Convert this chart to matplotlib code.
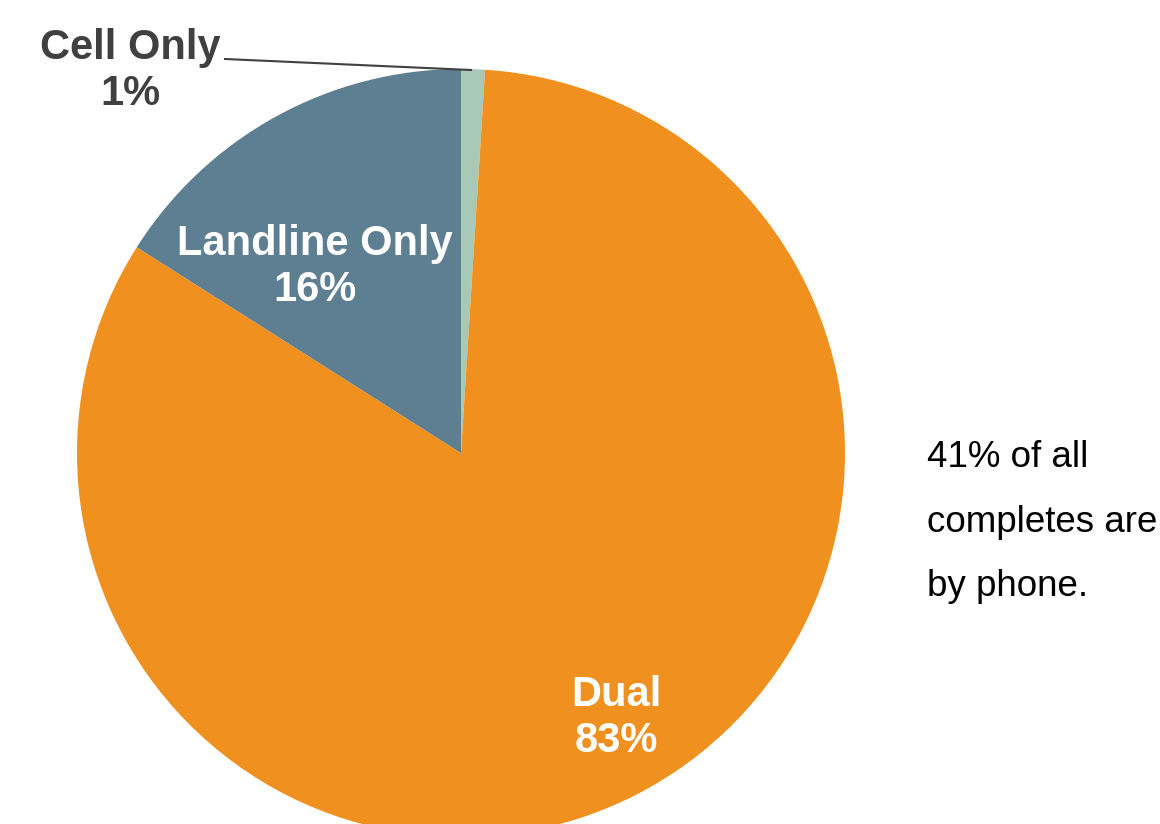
import matplotlib
matplotlib.use("Agg")
import matplotlib.pyplot as plt

plt.rcParams['font.family'] = ['Liberation Sans', 'DejaVu Sans']

# data
categories = ["Cell Only", "Dual", "Landline Only"]
shares = [1, 83, 16]
colors = ["#A8C8B8", "#F0901F", "#5E7F91"]
note = "41% of all\ncompletes are\nby phone."

W, H = 1160, 824
fig = plt.figure(figsize=(W / 100, H / 100), dpi=100)
ax = fig.add_axes([0, 0, 1, 1])

ax.pie(shares, colors=colors, startangle=90, counterclock=False,
       center=(461, H - 453), radius=384,
       wedgeprops=dict(linewidth=0))

ax.set_xlim(0, W)
ax.set_ylim(0, H)
ax.set_aspect('equal')
ax.axis('off')

dark = "#404040"
# labels (pixel positions from the top)
ax.text(130, H - 71, "Cell Only\n%d%%" % shares[0], ha='center', va='center',
        fontsize=30, fontweight='bold', color=dark, linespacing=1.22)
ax.plot([225, 471], [H - 59, H - 70], color=dark, lw=1.5)
ax.text(315, H - 267, "Landline Only\n%d%%" % shares[2], ha='center', va='center',
        fontsize=30, fontweight='bold', color='white', linespacing=1.22)
ax.text(616, H - 718, "Dual\n%d%%" % shares[1], ha='center', va='center',
        fontsize=30, fontweight='bold', color='white', linespacing=1.22)

ax.text(927, H - 522, note, ha='left', va='center', fontsize=26.5,
        color='black', linespacing=2.1)

fig.savefig("out.png", dpi=100)
